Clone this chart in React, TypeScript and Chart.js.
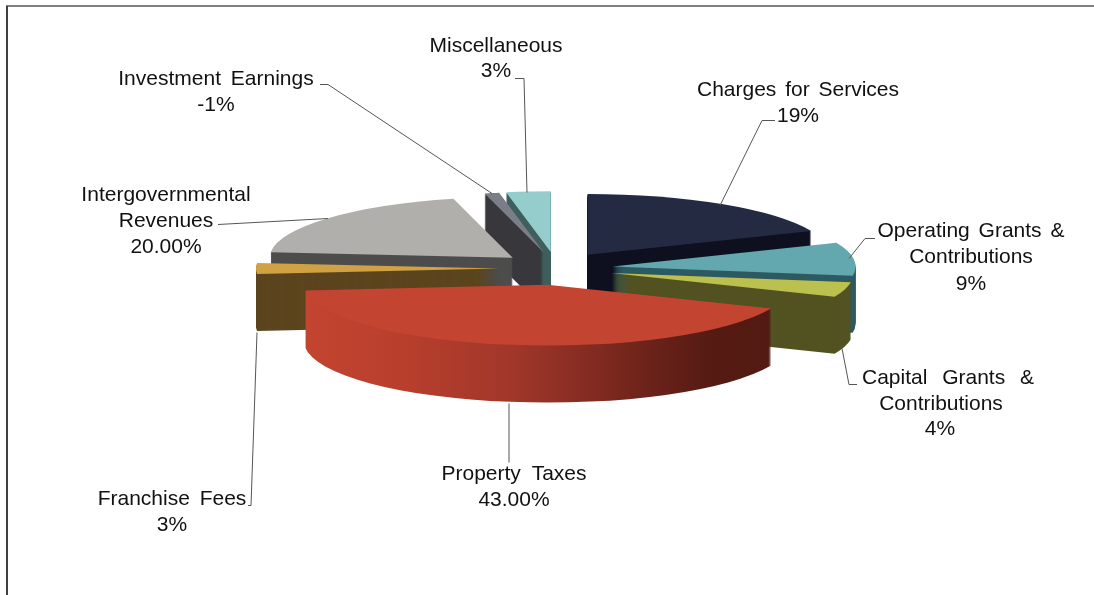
import React, { useEffect, useRef } from "react";
import { Chart, registerables } from "chart.js";

Chart.register(...registerables);

// ---- data ----
const categories = [
  "Charges for Services",
  "Operating Grants & Contributions",
  "Capital Grants & Contributions",
  "Property Taxes",
  "Franchise Fees",
  "Intergovernmental Revenues",
  "Investment Earnings",
  "Miscellaneous",
];
const values = [19, 9, 4, 43, 3, 20, -1, 3];

// ---- styles ----
const topColors = ["#232a42", "#62a8ae", "#bcc04f", "#c24431", "#d0a243", "#b0afac", "#7b7e87", "#94cdcc"];
const wallColors = ["#0f1020", "#2e5a62", "#525222", "#a5392a", "#5c451e", "#4d4d4d", "#38383c", "#3f5f5e"];
const paintOrder = [0, 7, 6, 5, 4, 1, 2, 3];

const RADIUS = 243;
const SQUASH = 0.25;
const DEPTH = 57;
const EXPLODE_X = 57;
const EXPLODE_Y = 66;
const FONT = '21px "Liberation Sans", Arial, sans-serif';

// text lines [text, centre x, centre y, word spacing] + leader polyline per category
const labelLayout = [
  { lines: [["Charges for Services", 798, 90, 3], ["19%", 798, 116, 3]], leader: [[775, 120], [762, 120], [720, 205]] },
  { lines: [["Operating Grants &", 971, 231, 3], ["Contributions", 971, 257, 3], ["9%", 971, 284, 3]], leader: [[875, 238], [865, 238], [849, 258]] },
  { lines: [["Capital Grants &", 948, 378, 9], ["Contributions", 941, 404, 3], ["4%", 940, 429, 3]], leader: [[857, 384], [849, 384], [842, 348]] },
  { lines: [["Property Taxes", 514, 474, 5], ["43.00%", 514, 500, 3]], leader: [[509, 403], [509, 462]] },
  { lines: [["Franchise Fees", 172, 499, 4], ["3%", 172, 525, 3]], leader: [[257, 332], [251, 505], [248, 505]] },
  { lines: [["Intergovernmental", 166, 195, 3], ["Revenues", 166, 221, 3], ["20.00%", 166, 247, 3]], leader: [[218, 224], [328, 218]] },
  { lines: [["Investment Earnings", 216, 79, 4], ["-1%", 216, 105, 3]], leader: [[320, 84], [328, 84], [492, 193]] },
  { lines: [["Miscellaneous", 496, 46, 3], ["3%", 496, 71, 3]], leader: [[515, 78], [524, 78], [527, 192]] },
];

const pie3d = {
  id: "pie3d",
  beforeDatasetsDraw(chart: any) {
    const ctx = chart.ctx;
    const arcs = chart.getDatasetMeta(0).data;
    for (const i of paintOrder) {
      const arc = arcs[i];
      const mid = (arc.startAngle + arc.endAngle) / 2;
      const dx = Math.cos(mid) * EXPLODE_X;
      const dy = Math.sin(mid) * EXPLODE_Y;
      const saved = arc.options;

      const place = (d: number) => {
        ctx.save();
        ctx.translate(arc.x, arc.y + d);
        ctx.scale(1, SQUASH);
        ctx.translate(-arc.x + dx, -arc.y + dy);
      };

      let wall: any = wallColors[i];
      if (categories[i] === "Property Taxes") {
        const g = ctx.createLinearGradient(306 - dx, 0, 768 - dx, 0);
        g.addColorStop(0, "#c24431");
        g.addColorStop(0.2, "#b93f2c");
        g.addColorStop(0.45, "#a0372a");
        g.addColorStop(0.6, "#872c22");
        g.addColorStop(0.75, "#6a2219");
        g.addColorStop(0.87, "#561b13");
        g.addColorStop(1, "#521a12");
        wall = g;
      }
      arc.options = { ...saved, backgroundColor: wall, borderColor: wall, borderWidth: 0 };
      for (let d = DEPTH; d >= 1; d--) {
        place(d);
        arc.draw(ctx);
        ctx.restore();
      }
      arc.options = { ...saved, borderWidth: 0 };
      place(0);
      arc.draw(ctx);
      ctx.restore();
      arc.options = saved;
    }
    return false;
  },
  afterDraw(chart: any) {
    const ctx = chart.ctx;
    ctx.save();
    // chart frame
    ctx.fillStyle = "#808080";
    ctx.fillRect(6, 5, 1088, 2);
    ctx.fillStyle = "#404040";
    ctx.fillRect(6, 6, 2, 589);
    // leaders
    ctx.strokeStyle = "#555555";
    ctx.lineWidth = 1;
    for (const { leader } of labelLayout) {
      ctx.beginPath();
      leader.forEach(([x, y], k) => (k ? ctx.lineTo(x, y + 0.5) : ctx.moveTo(x, y + 0.5)));
      ctx.stroke();
    }
    // labels
    ctx.fillStyle = "#111111";
    ctx.font = FONT;
    ctx.textAlign = "center";
    ctx.textBaseline = "middle";
    for (const { lines } of labelLayout) {
      for (const [text, x, y, sp] of lines as [string, number, number, number][]) {
        (ctx as any).wordSpacing = `${sp}px`;
        ctx.fillText(text, x, y);
      }
    }
    ctx.restore();
  },
};

export default function App() {
  const ref = useRef<HTMLCanvasElement>(null);
  useEffect(() => {
    const chart = new Chart(ref.current as HTMLCanvasElement, {
      type: "pie",
      data: {
        labels: categories,
        datasets: [{ data: values, backgroundColor: topColors, borderWidth: 0, radius: RADIUS } as any],
      },
      options: {
        responsive: false,
        animation: false,
        layout: { padding: { left: 18, bottom: 58 } },
        plugins: { legend: { display: false }, tooltip: { enabled: false } },
      },
      plugins: [pie3d as any],
    });
    return () => chart.destroy();
  }, []);
  return (
    <canvas
      ref={ref}
      width={1094}
      height={595}
      style={{ position: "fixed", left: 0, top: 0, width: 1094, height: 595, background: "#ffffff" }}
    />
  );
}
